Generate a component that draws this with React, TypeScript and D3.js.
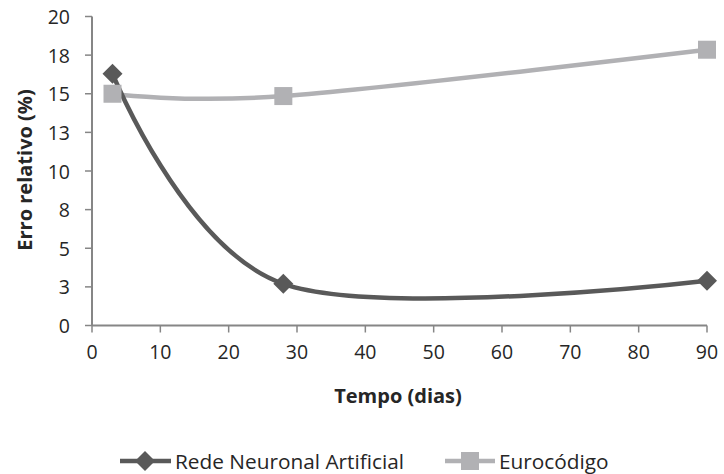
import React from "react";
import * as d3 from "d3";

const days = [3, 28, 90];
const rnaValues = [16.3, 2.7, 2.9];
const euroValues = [15.0, 14.85, 17.85];
const xTicks = [0, 10, 20, 30, 40, 50, 60, 70, 80, 90];
const yTicks = [0, 2.5, 5, 7.5, 10, 12.5, 15, 17.5, 20];
const seriesNames = ["Rede Neuronal Artificial", "Eurocódigo"];

const W = 724;
const H = 474;
const FONT = "'Open Sans', Lato, sans-serif";
const AXIS = "#868686";
const C_RNA = "#595959";
const C_EURO = "#b1b1b4";
const TXT = "#262626";

function fmt(v: number) {
  return String(Math.round(v + 1e-9));
}

export default function App() {
  const x = d3.scaleLinear().domain([0, 90]).range([92, 707]);
  const y = d3.scaleLinear().domain([0, 20]).range([325.5, 16.5]);
  const line = d3
    .line<[number, number]>()
    .x((d) => x(d[0]))
    .y((d) => y(d[1]))
    .curve(d3.curveCardinal.tension(0));
  const rna: [number, number][] = days.map((d, i) => [d, rnaValues[i]]);
  const euro: [number, number][] = days.map((d, i) => [d, euroValues[i]]);

  const diamond = (cx: number, cy: number, r: number) =>
    `M${cx},${cy - r}L${cx + r},${cy}L${cx},${cy + r}L${cx - r},${cy}Z`;

  return (
    <svg
      width={W}
      height={H}
      style={{ position: "absolute", left: 0, top: 0, background: "#fff" }}
      fontFamily={FONT}
    >
      {/* axes */}
      <line x1={x(0)} x2={x(90)} y1={y(0)} y2={y(0)} stroke={AXIS} strokeWidth={2} />
      <line x1={x(0)} x2={x(0)} y1={y(0)} y2={y(20)} stroke={AXIS} strokeWidth={2} />
      {yTicks.map((t) => (
        <g key={"y" + t}>
          <line x1={x(0) - 7} x2={x(0)} y1={y(t)} y2={y(t)} stroke={AXIS} strokeWidth={1.5} />
          <text
            x={70}
            y={y(t)}
            textAnchor="end"
            dominantBaseline="central"
            fontSize={19.5}
            fill={TXT}
          >
            {fmt(t)}
          </text>
        </g>
      ))}
      {xTicks.map((t) => (
        <g key={"x" + t}>
          <line x1={x(t)} x2={x(t)} y1={y(0)} y2={y(0) + 7} stroke={AXIS} strokeWidth={1.5} />
          <text
            x={x(t)}
            y={y(0) + 26}
            textAnchor="middle"
            dominantBaseline="central"
            fontSize={19.5}
            fill={TXT}
          >
            {t}
          </text>
        </g>
      ))}
      <text
        x={398}
        y={395}
        textAnchor="middle"
        dominantBaseline="central"
        fontSize={20}
        fontWeight="bold"
        fill={TXT}
      >
        Tempo (dias)
      </text>
      <text
        transform={`translate(24,170) rotate(-90)`}
        textAnchor="middle"
        dominantBaseline="central"
        fontSize={20}
        fontWeight="bold"
        fill={TXT}
      >
        Erro relativo (%)
      </text>

      {/* series */}
      <path d={line(euro) || ""} fill="none" stroke={C_EURO} strokeWidth={4.5} />
      <path d={line(rna) || ""} fill="none" stroke={C_RNA} strokeWidth={4.5} />
      {euro.map((d, i) => (
        <rect key={"e" + i} x={x(d[0]) - 9} y={y(d[1]) - 9} width={18} height={18} fill={C_EURO} />
      ))}
      {rna.map((d, i) => (
        <path key={"r" + i} d={diamond(x(d[0]), y(d[1]), 10)} fill={C_RNA} />
      ))}

      {/* legend */}
      <line x1={120} x2={171} y1={461} y2={461} stroke={C_RNA} strokeWidth={4.5} />
      <path d={diamond(145, 461, 10)} fill={C_RNA} />
      <text x={175} y={461} dominantBaseline="central" fontSize={20.8} fill={TXT}>
        {seriesNames[0]}
      </text>
      <line x1={445} x2={495} y1={461} y2={461} stroke={C_EURO} strokeWidth={4.5} />
      <rect x={461} y={452} width={18} height={18} fill={C_EURO} />
      <text x={499} y={461} dominantBaseline="central" fontSize={20.8} fill={TXT}>
        {seriesNames[1]}
      </text>
    </svg>
  );
}
